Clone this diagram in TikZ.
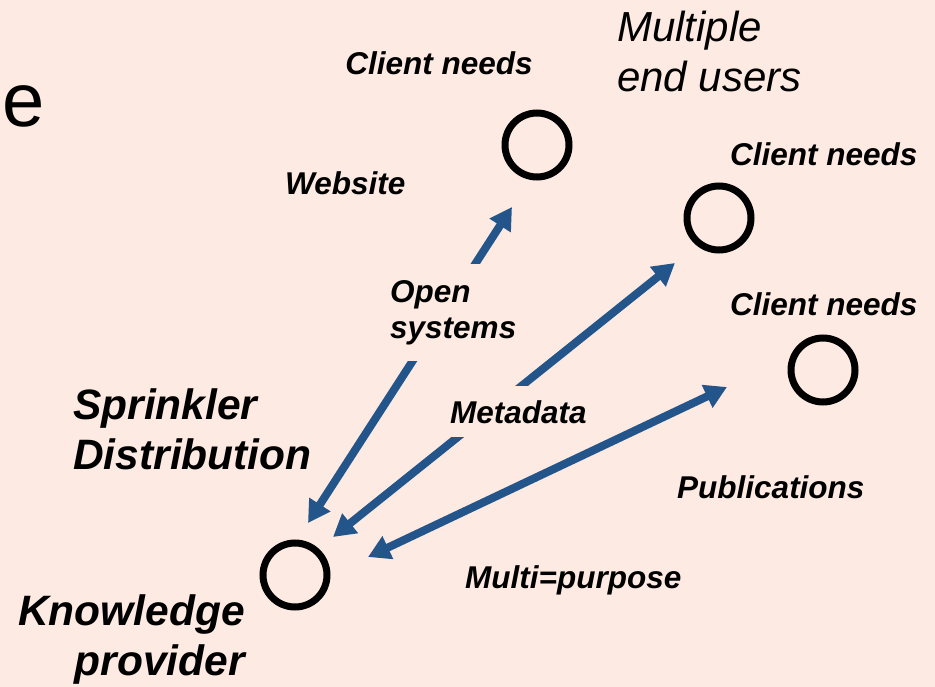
\documentclass[tikz,border=0pt]{standalone}
\usepackage{fontspec}
\setmainfont{Liberation Sans}
\usetikzlibrary{arrows.meta}
\definecolor{bg}{HTML}{FDEAE2}
\definecolor{arrblue}{HTML}{24558A}
\tikzset{
  lbl/.style={font=\fontsize{31.5}{36}\selectfont\bfseries\itshape, inner sep=0pt},
  biglbl/.style={font=\fontsize{42.5}{50}\selectfont\bfseries\itshape, inner sep=0pt},
  gaplbl/.style={lbl, fill=bg, inner sep=14pt},
  ring/.style={circle, draw, line width=7pt, minimum size=64pt, inner sep=0pt},
  bigarrow/.style={draw=arrblue, line width=8pt,
    {Triangle[width=24pt,length=22pt]}-{Triangle[width=24pt,length=22pt]}}
}
\begin{document}
\begin{tikzpicture}[x=1pt,y=-1pt]
\fill[bg] (0,0) rectangle (935,687);
\useasboundingbox (0,0) rectangle (935,687);

% rings
\node[ring] (kp) at (295,575) {};
\node[ring] (c1) at (537,145) {};
\node[ring] (c2) at (719,218) {};
\node[ring] (c3) at (823,370) {};

% arrow end points
\coordinate (a1s) at (308,523);
\coordinate (a1e) at (512,207);
\coordinate (a2s) at (333,537);
\coordinate (a2e) at (675,263);
\coordinate (a3s) at (368,557);
\coordinate (a3e) at (727,387);

% arrow 1 with label gap
\draw[bigarrow] (a1s) -- (a1e);
\node[gaplbl, align=left, anchor=base west, inner ysep=16pt] (open) at (376,338) {Open\\systems};

% arrow 2 with label gap
\draw[bigarrow] (a2s) -- (a2e);
\node[gaplbl, anchor=base west] (meta) at (436,423) {Metadata};

% arrow 3
\draw[bigarrow] (a3s) -- (a3e);

% texts
\node[inner sep=0pt, anchor=base west, font=\fontsize{76}{86}\selectfont] (e) at (2,127) {e};
\node[lbl, anchor=base] (cn1) at (439,75) {Client needs};
\node[lbl, anchor=base west] (cn2) at (730,166) {Client needs};
\node[lbl, anchor=base west] (cn3) at (730,316) {Client needs};
\node[inner sep=0pt, anchor=base west, align=left, font=\fontsize{42}{50}\selectfont\itshape] (meu) at (617,92) {Multiple\\end users};
\node[lbl, anchor=base west] (web) at (285,195) {Website};
\node[lbl, anchor=base west] (pub) at (677,498) {Publications};
\node[lbl, anchor=base west] (multi) at (465,588) {Multi=purpose};
\node[biglbl, align=left, anchor=base west] (spr) at (73,469) {Sprinkler\\Distribution};
\node[biglbl, align=right, anchor=base east] (know) at (245,675) {Knowledge\\provider};
\end{tikzpicture}
\end{document}
